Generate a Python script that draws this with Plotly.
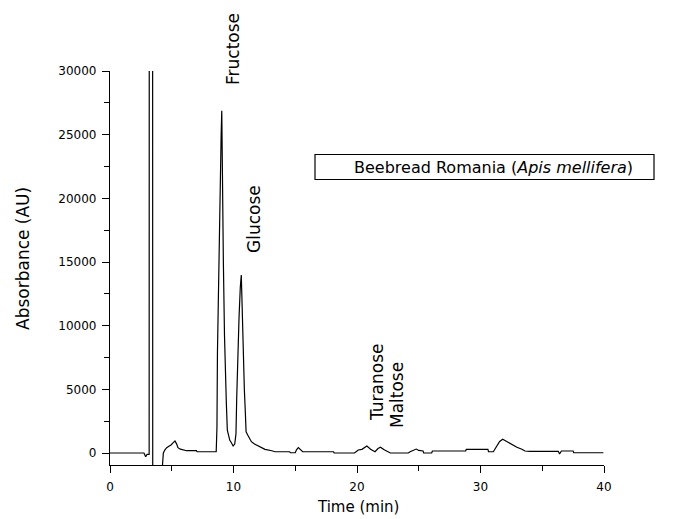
import plotly.graph_objects as go

# Chromatogram trace (time in min, absorbance in AU)
time_min = [0.0, 2.75, 2.89, 3.0, 3.17, 3.18, 3.45, 3.46, 4.10, 4.25, 4.32, 4.45, 4.59, 4.80, 4.94,
            5.10, 5.26, 5.40, 5.50, 5.70, 5.90, 6.20, 7.00, 7.05, 8.60,
            8.66, 8.70, 8.85, 8.92, 9.00, 9.05, 9.10, 9.18, 9.27, 9.35, 9.42, 9.50, 9.60, 9.70,
            9.83, 9.97, 10.10, 10.20, 10.26, 10.35, 10.45, 10.55, 10.63, 10.70, 10.78, 10.88,
            10.96, 11.02, 11.15, 11.29, 11.45, 11.70, 11.97, 12.25, 12.55, 13.10, 13.36, 14.55,
            14.60, 15.00, 15.10, 15.25, 15.40, 15.60, 18.10, 18.15, 19.80, 20.10, 20.40, 20.80,
            21.10, 21.46, 21.70, 21.90, 22.20, 22.50, 22.70, 24.15, 24.30, 24.80, 25.00, 25.35,
            25.40, 26.05, 26.10, 28.80, 28.85, 30.60, 30.65, 31.04, 31.30, 31.55, 31.80, 32.15,
            32.55, 32.95, 33.35, 33.60, 34.00, 36.30, 36.40, 36.55, 37.50, 37.55, 39.95]
absorbance = [0, 0, -290, -100, -100, 40000, 40000, -3000, -3000, -500, 0, 250, 420, 550, 630,
              800, 940, 700, 420, 300, 235, 180, 180, 100, 100,
              2000, 7850, 18000, 21200, 25000, 26880, 21200, 15000, 9270, 5500, 3900, 1800, 1300, 1000,
              810, 550, 700, 1500, 4300, 8500, 10700, 13000, 13980, 11500, 8000, 4950,
              3140, 1670, 1410, 1150, 890, 700, 550, 390, 290, 180, 100, 100,
              20, 20, 250, 420, 250, 100, 100, 0, 0, 235, 290, 550,
              290, 100, 350, 450, 250, 100, 0, 0, 100, 310, 200, 157,
              0, 0, 157, 157, 290, 290, 100, 100, 500, 900, 1075, 890,
              630, 450, 290, 157, 130, 130, -80, 157, 157, 20, 20]

peak_labels = ["Fructose", "Glucose", "Turanose", "Maltose"]
legend_text = "Beebread Romania (<i>Apis mellifera</i>)"
x_title = "Time (min)"
y_title = "Absorbance (AU)"
x_ticks = [0, 10, 20, 30, 40]
y_ticks = [0, 5000, 10000, 15000, 20000, 25000, 30000]

# The page places the figure 8 px from the window's top-left corner (body margin)
OFF = 8
FIG_W, FIG_H = 673 - OFF, 519 - OFF
# Plot area in window pixels: left 110, right 604, top 71, bottom 465
L, R, T, B = 110, 604, 71, 465
W, H = R - L, B - T


def px(x):
    return (x - L) / W


def py(y):
    return (B - y) / H


fig = go.Figure()
fig.add_trace(go.Scatter(x=time_min, y=absorbance, mode="lines",
                         line=dict(color="black", width=1.2), showlegend=False))

font_main = "DejaVu Sans"

# peak labels (rotated) — centers in window pixels
label_pos = [(233, 49), (254, 219), (377, 383), (396.5, 395.5)]
for txt, (cx, cy) in zip(peak_labels, label_pos):
    fig.add_annotation(text=txt, x=px(cx), y=py(cy), xref="paper", yref="paper",
                       showarrow=False, textangle=-90, xanchor="center", yanchor="middle",
                       font=dict(family=font_main, size=17, color="black"))

# legend box
fig.add_shape(type="rect", xref="paper", yref="paper",
              x0=px(315), x1=px(654), y0=py(179.5), y1=py(154.5),
              line=dict(color="black", width=1.2), fillcolor="white")
fig.add_annotation(text=legend_text, x=px(352), y=py(167), xref="paper", yref="paper",
                   showarrow=False, xanchor="left", yanchor="middle",
                   font=dict(family=font_main, size=16, color="black"))

# axis titles
fig.add_annotation(text=x_title, x=px(358), y=py(507), xref="paper", yref="paper",
                   showarrow=False, xanchor="center", yanchor="middle",
                   font=dict(family=font_main, size=15, color="black"))
fig.add_annotation(text=y_title, x=px(23), y=py(259), xref="paper", yref="paper",
                   showarrow=False, xanchor="center", yanchor="middle", textangle=-90,
                   font=dict(family=font_main, size=17, color="black"))

fig.update_layout(
    width=FIG_W, height=FIG_H,
    margin=dict(l=L - OFF, r=FIG_W - (R - OFF), t=T - OFF, b=FIG_H - (B - OFF)),
    paper_bgcolor="white", plot_bgcolor="white",
    font=dict(family=font_main, size=12, color="black"),
    xaxis=dict(range=[0, 40], tickvals=x_ticks, ticktext=[str(v) for v in x_ticks],
               showgrid=False, zeroline=False, showline=True, linecolor="black", linewidth=1.2,
               ticks="outside", ticklen=7, tickcolor="black", tickwidth=1.2,
               minor=dict(dtick=5, ticks="outside", ticklen=5, tickcolor="black", tickwidth=1.2),
               tickfont=dict(family=font_main, size=12, color="black"), ticklabelstandoff=3),
    yaxis=dict(range=[-942, 30000], tickvals=y_ticks, ticktext=[str(v) for v in y_ticks],
               showgrid=False, zeroline=False, showline=True, linecolor="black", linewidth=1.2,
               ticks="outside", ticklen=7, tickcolor="black", tickwidth=1.2,
               minor=dict(dtick=2500, tick0=0, ticks="outside", ticklen=5, tickcolor="black", tickwidth=1.2),
               tickfont=dict(family=font_main, size=12, color="black"), ticklabelstandoff=3),
)

fig.write_html("out.html")
